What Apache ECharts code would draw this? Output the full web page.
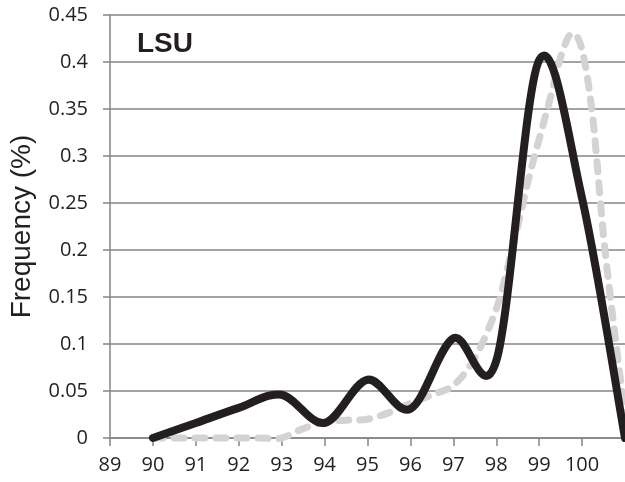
<!DOCTYPE html>
<html>
<head>
<meta charset="utf-8">
<script src="https://cdn.jsdelivr.net/npm/echarts@6/dist/echarts.min.js"></script>
<style>
  html, body { margin: 0; padding: 0; background: #fff; }
  #chart { width: 625px; height: 482px; }
</style>
</head>
<body>
<div id="chart"></div>
<script>
// Identity (%) on the x axis, frequency on the y axis
const blackX = [90, 91, 92, 93, 94, 95, 96, 97, 98, 99, 100, 101];
const blackY = [0, 0.016, 0.032, 0.046, 0.016, 0.062, 0.031, 0.106, 0.082, 0.402, 0.255, 0];

const grayX = [90, 90.5, 91, 91.5, 92, 92.5, 93, 93.5, 94, 94.5, 95, 95.5, 96, 96.5, 97, 97.5,
  98, 98.25, 98.5, 98.75, 99, 99.25, 99.5, 99.75, 100, 100.25, 100.5, 100.75, 101];
const grayY = [0, 0, 0, 0, 0, 0, 0, 0.01, 0.017, 0.019, 0.02, 0.027, 0.037, 0.046, 0.056, 0.085,
  0.137, 0.179, 0.225, 0.275, 0.318, 0.36, 0.405, 0.43, 0.413, 0.34, 0.215, 0.115, 0.025];

const xMin = 89, xMax = 101, xStep = 1;
const yMin = 0, yMax = 0.45, yStep = 0.05;
const yTitle = 'Frequency (%)';
const panelLabel = 'LSU';

const pairs = (xs, ys) => xs.map((x, i) => [x, ys[i]]);

const axisGray = '#858585';
const textDark = '#231f20';

// Catmull-Rom style smoothing (cubic Bezier, tangent = (next - prev) / 6),
// computed in pixel space from the axis-mapped points.
function smoothPath(pts) {
  let d = 'M' + pts[0][0] + ' ' + pts[0][1];
  for (let i = 0; i < pts.length - 1; i++) {
    const p0 = pts[Math.max(i - 1, 0)];
    const p1 = pts[i];
    const p2 = pts[i + 1];
    const p3 = pts[Math.min(i + 2, pts.length - 1)];
    const c1x = p1[0] + (p2[0] - p0[0]) / 6;
    const c1y = p1[1] + (p2[1] - p0[1]) / 6;
    const c2x = p2[0] - (p3[0] - p1[0]) / 6;
    const c2y = p2[1] - (p3[1] - p1[1]) / 6;
    d += ' C' + c1x + ' ' + c1y + ' ' + c2x + ' ' + c2y + ' ' + p2[0] + ' ' + p2[1];
  }
  return d;
}

function curveSeries(xs, ys, style, z) {
  return {
    type: 'custom',
    coordinateSystem: 'cartesian2d',
    data: pairs(xs, ys),
    encode: { x: 0, y: 1 },
    z: z,
    silent: true,
    renderItem: function (params, api) {
      if (params.dataIndex !== 0) return null;
      const pts = xs.map((x, i) => api.coord([x, ys[i]]));
      return {
        type: 'path',
        shape: { pathData: smoothPath(pts) },
        style: Object.assign({ fill: 'none', lineJoin: 'round', lineCap: 'round' }, style)
      };
    }
  };
}

const chart = echarts.init(document.getElementById('chart'), null, { renderer: 'canvas' });
chart.setOption({
  animation: false,
  backgroundColor: '#ffffff',
  grid: { left: 110, top: 15, right: -3, bottom: 44, containLabel: false },
  xAxis: {
    type: 'value',
    min: xMin, max: xMax, interval: xStep,
    axisLine: { show: true, lineStyle: { color: axisGray, width: 1.5 } },
    axisTick: { show: true, length: 8, lineStyle: { color: axisGray, width: 1.5 } },
    axisLabel: {
      show: true, margin: 17, color: textDark,
      fontFamily: 'Open Sans', fontSize: 20,
      showMaxLabel: false
    },
    splitLine: { show: false }
  },
  yAxis: {
    type: 'value',
    min: yMin, max: yMax, interval: yStep,
    name: yTitle,
    nameLocation: 'middle',
    nameRotate: 90,
    nameGap: 74,
    nameTextStyle: { fontFamily: 'Liberation Sans', fontSize: 28, color: textDark },
    axisLine: { show: true, lineStyle: { color: axisGray, width: 1.5 } },
    axisTick: { show: true, length: 7, lineStyle: { color: axisGray, width: 1.5 } },
    axisLabel: {
      margin: 22, color: textDark,
      fontFamily: 'Open Sans', fontSize: 20
    },
    splitLine: { show: true, lineStyle: { color: axisGray, width: 1.5 } }
  },
  graphic: [{
    type: 'text',
    left: 137, top: 30,
    style: {
      text: panelLabel,
      fill: textDark,
      font: 'bold 28px "Liberation Sans"'
    }
  }],
  series: [
    curveSeries(grayX, grayY, { stroke: '#d3d3d3', lineWidth: 7, lineDash: [10, 11] }, 2),
    curveSeries(blackX, blackY, { stroke: textDark, lineWidth: 8 }, 3)
  ]
});
</script>
</body>
</html>
